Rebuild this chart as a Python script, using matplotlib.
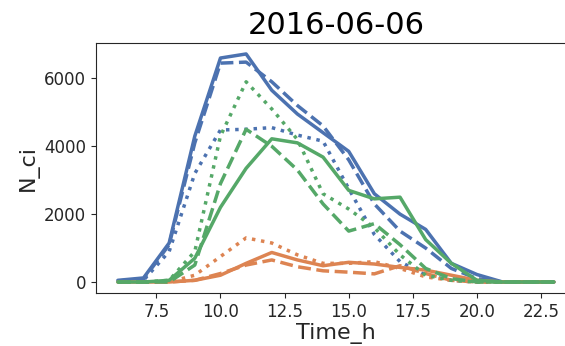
import numpy as np
import matplotlib
matplotlib.use('Agg')
import matplotlib.pyplot as plt
import seaborn as sns

sns.set_style('ticks')

# Horas del dia
hours = list(range(6, 24))

# Serie azul
blue_solid = [50, 120, 1150, 4300, 6600, 6720, 5650, 4950, 4400, 3850, 2600, 2000, 1550, 550, 220, 0, 0, 0]
blue_dashed = [30, 80, 1100, 4100, 6450, 6480, 5900, 5200, 4600, 3600, 2300, 1500, 1000, 400, 100, 0, 0, 0]
blue_dotted = [0, 50, 900, 3200, 4480, 4500, 4550, 4330, 4150, 2750, 1400, 600, 200, 50, 0, 0, 0, 0]

# Serie verde
green_solid = [0, 0, 50, 700, 2200, 3350, 4220, 4100, 3680, 2700, 2450, 2500, 1250, 550, 50, 0, 0, 0]
green_dashed = [0, 0, 0, 500, 2900, 4500, 4000, 3300, 2300, 1500, 1720, 1100, 400, 100, 0, 0, 0, 0]
green_dotted = [0, 0, 50, 900, 4300, 5900, 5100, 4200, 2600, 2150, 1600, 800, 200, 50, 0, 0, 0, 0]

# Serie naranja
orange_solid = [0, 0, 0, 50, 200, 550, 870, 650, 480, 580, 530, 430, 350, 200, 50, 0, 0, 0]
orange_dashed = [0, 0, 0, 50, 250, 500, 650, 450, 330, 290, 240, 480, 250, 50, 0, 0, 0, 0]
orange_dotted = [0, 0, 0, 200, 750, 1300, 1150, 800, 550, 550, 600, 400, 150, 50, 0, 0, 0, 0]

pal = sns.color_palette('deep')
c_blue, c_orange, c_green = pal[0], pal[1], pal[2]

fig = plt.figure(figsize=(5.65, 3.46), dpi=100)
ax = fig.add_axes([0.170, 0.152, 0.849, 0.725])

lw = 2.5
ax.plot(hours, blue_solid, color=c_blue, lw=lw, ls='-')
ax.plot(hours, blue_dashed, color=c_blue, lw=lw, ls='--')
ax.plot(hours, blue_dotted, color=c_blue, lw=lw, ls=':')
ax.plot(hours, orange_solid, color=c_orange, lw=lw, ls='-')
ax.plot(hours, orange_dashed, color=c_orange, lw=lw, ls='--')
ax.plot(hours, orange_dotted, color=c_orange, lw=lw, ls=':')
ax.plot(hours, green_solid, color=c_green, lw=lw, ls='-')
ax.plot(hours, green_dashed, color=c_green, lw=lw, ls='--')
ax.plot(hours, green_dotted, color=c_green, lw=lw, ls=':')

ax.set_title('2016-06-06', fontsize=22, color='black')
ax.set_xlabel('Time_h', fontsize=16, labelpad=1)
ax.set_ylabel('N_ci', fontsize=16)
ax.tick_params(labelsize=12)
ax.set_xticks([7.5, 10.0, 12.5, 15.0, 17.5, 20.0, 22.5])

fig.savefig('out.png', dpi=100)
